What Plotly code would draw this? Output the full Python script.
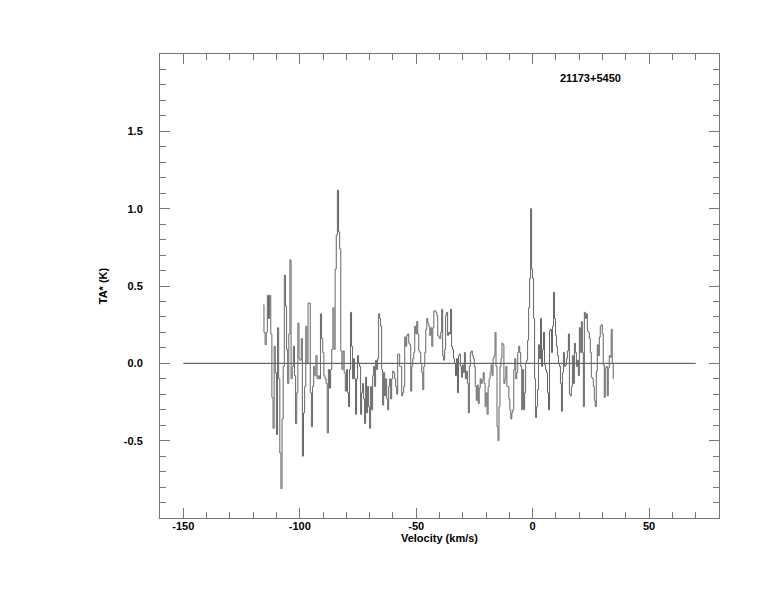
import numpy as np
import plotly.graph_objects as go

# Spectrum segments: (v_start, v_end, values)
seg_a_v = (-115.6, -80.2)
seg_a = [0.38, 0.2, 0.12, 0.2, 0.44, 0.29, 0.44, 0.19, -0.22, -0.42, 0.11, -0.06, -0.46, 0.23,
         -0.1, -0.58, -0.81, -0.36, -0.02, 0.57, 0.37, 0.09, -0.13, 0.19, 0.67, -0.1, -0.02, 0.11,
         -0.08, -0.39, -0.19, 0.26, 0.03, 0.02, 0.16, -0.6, -0.32, -0.15, 0.24, 0.0, 0.39, 0.39,
         -0.19, -0.41, -0.15, -0.02, -0.08, 0.05, -0.1, -0.08, -0.1, 0.32, 0.16, 0.07, -0.08, -0.1,
         -0.13, -0.45, -0.04, -0.16, -0.04, 0.09, 0.36, 0.09, 0.61, 0.83, 1.12, 0.85, 0.74, 0.08,
         -0.04, 0.08, -0.06, -0.18]
seg_b_v = (-79.7, -41.8)
seg_b = [-0.04, -0.19, -0.28, -0.04, 0.33, 0.11, -0.1, 0.03, -0.1, -0.33, -0.1, 0.05, 0.0, -0.02,
         -0.33, -0.19, -0.13, -0.23, -0.39, -0.09, -0.32, -0.15, -0.28, -0.42, -0.15, -0.3, -0.08,
         -0.02, -0.15, 0.02, -0.04, 0.03, 0.32, 0.29, 0.24, -0.04, -0.27, -0.06, -0.21, -0.1, -0.23,
         -0.3, -0.15, -0.1, -0.23, -0.1, -0.05, -0.06, -0.1, -0.15, -0.2, 0.06, 0.06, -0.02, -0.02,
         -0.21, -0.19, -0.15, 0.17, 0.11, 0.18, 0.19, 0.13, 0.12, -0.18, -0.02, 0.03, 0.07, 0.24,
         0.19, 0.27, 0.19, 0.08, 0.07, 0.0, -0.06, -0.17, -0.02, 0.07, 0.22, 0.29, 0.26, 0.24, 0.18,
         0.23, 0.11, 0.23, 0.34, 0.34]
seg_c_v = (-41.4, -4.5)
seg_c = [0.33, 0.31, 0.18, 0.17, 0.16, 0.2, 0.35, 0.05, 0.02, 0.09, 0.31, 0.33, 0.18, 0.2, 0.19,
         0.35, 0.11, 0.09, 0.03, 0.0, -0.08, 0.03, -0.19, 0.05, 0.06, -0.02, -0.09, -0.01, -0.06,
         0.07, -0.1, -0.05, -0.13, -0.32, -0.02, 0.07, 0.08, 0.05, 0.03, -0.02, -0.15, -0.24, -0.14,
         -0.26, -0.16, -0.1, -0.13, -0.11, -0.06, -0.13, -0.28, -0.19, -0.33, -0.15, -0.1, -0.06,
         -0.01, -0.08, 0.03, 0.05, 0.2, -0.02, -0.41, -0.5, -0.28, -0.02, 0.03, 0.13, 0.12, -0.13,
         -0.1, -0.02, -0.15, -0.15, -0.23, -0.3, -0.36, -0.32, -0.3, -0.04, 0.03, -0.1, -0.06, 0.07,
         0.11, 0.07, -0.02, -0.3]
seg_d_v = (-4.1, 34.8)
seg_d = [-0.04, -0.3, -0.19, 0.0, 0.02, 0.15, 0.36, 0.55, 1.0, 0.61, 0.55, 0.29, -0.1, -0.35,
         -0.28, -0.17, 0.12, 0.03, 0.29, -0.02, 0.09, 0.2, -0.01, -0.04, -0.06, -0.19, -0.3, 0.21,
         0.22, 0.07, 0.24, 0.46, 0.29, 0.18, 0.11, 0.05, 0.0, -0.02, -0.13, -0.31, -0.06, 0.07, -0.02,
         -0.01, 0.03, 0.08, 0.19, -0.2, -0.21, -0.15, 0.05, -0.13, 0.13, 0.07, -0.02, 0.02, -0.08,
         0.23, 0.07, 0.27, 0.07, -0.28, 0.33, 0.29, 0.32, 0.21, 0.2, 0.16, 0.07, -0.09, -0.1, -0.15,
         -0.24, -0.28, -0.05, 0.12, 0.05, 0.17, 0.24, 0.25, 0.19, -0.01, -0.22, -0.03, -0.02, -0.21,
         -0.03, 0.05, 0.04, 0.22, 0.0, -0.1]

baseline_range = [-150, 70]
source_name = "21173+5450"
x_ticks = [-150, -100, -50, 0, 50]
y_ticks = [-0.5, 0.0, 0.5, 1.0, 1.5]
y_tick_text = ["-0.5", "0.0", "0.5", "1.0", "1.5"]

vel, ta = [], []
for (v0, v1), vals in [(seg_a_v, seg_a), (seg_b_v, seg_b), (seg_c_v, seg_c), (seg_d_v, seg_d)]:
    vel.extend(np.linspace(v0, v1, len(vals)).tolist())
    ta.extend(vals)

FONT = "Liberation Sans"
fig = go.Figure()
fig.add_trace(go.Scatter(x=baseline_range, y=[0, 0], mode="lines",
                         line=dict(color="#444444", width=1), hoverinfo="skip"))
fig.add_trace(go.Scatter(x=vel, y=ta, mode="lines", line_shape="hvh",
                         line=dict(color="#666666", width=1)))

axis_common = dict(showgrid=False, zeroline=False, showline=True, linecolor="#777777",
                   linewidth=1, mirror="ticks", ticks="inside", ticklen=10, tickcolor="#777777",
                   tickwidth=1, tickfont=dict(family=FONT, size=11, color="black"))
fig.update_xaxes(range=[-160, 80], tickvals=x_ticks,
                 ticktext=[f"<b>{t}</b>" for t in x_ticks],
                 minor=dict(dtick=10, ticklen=6, ticks="inside", tickcolor="#777777"),
                 title=dict(text="<b>Velocity (km/s)</b>", font=dict(family=FONT, size=11, color="black"), standoff=0),
                 ticklabelstandoff=-2,
                 **axis_common)
fig.update_yaxes(range=[-1.0, 2.0], tickvals=y_ticks,
                 ticktext=[f"<b>{t}</b>" for t in y_tick_text],
                 minor=dict(dtick=0.1, tick0=0, ticklen=6, ticks="inside", tickcolor="#777777"),
                 title=dict(text="<b>TA* (K)</b>", font=dict(family=FONT, size=11, color="black"), standoff=13),
                 ticklabelstandoff=14,
                 **axis_common)
fig.add_annotation(x=25.0, y=1.845, text=f"<b>{source_name}</b>", showarrow=False,
                   xref="x", yref="y", font=dict(family=FONT, size=11, color="black"))
fig.update_layout(width=774, height=612, margin=dict(l=152, r=63, t=46, b=102),
                  paper_bgcolor="white", plot_bgcolor="white", showlegend=False)
fig.write_html("out.html")
